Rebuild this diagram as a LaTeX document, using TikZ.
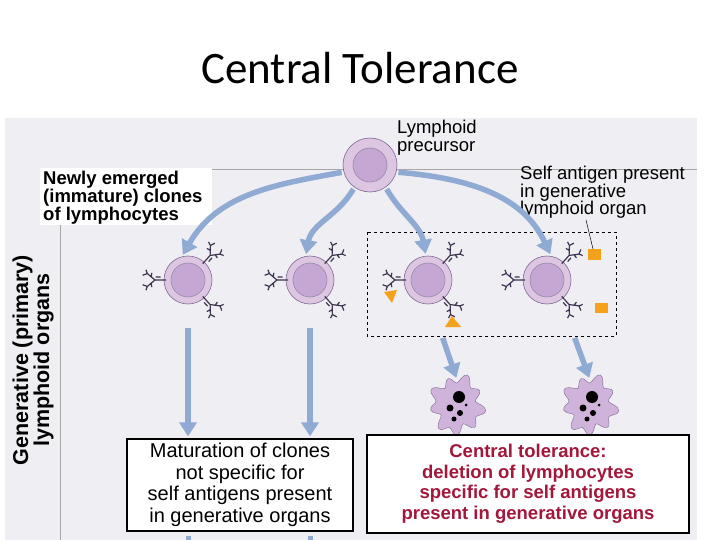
\documentclass[tikz,border=0pt]{standalone}
\usepackage{fontspec}
\setmainfont{Liberation Sans}
\newfontfamily\titlefont{Carlito}
\usetikzlibrary{arrows.meta,calc}
\definecolor{panel}{HTML}{EFEEF3}
\definecolor{cellout}{HTML}{DCC6E2}
\definecolor{cellin}{HTML}{C6A6D3}
\definecolor{celledge}{HTML}{7E6A92}
\definecolor{arr}{HTML}{8FAAD3}
\definecolor{rec}{HTML}{3E3350}
\definecolor{ant}{HTML}{F4A21C}
\definecolor{tolred}{HTML}{A3173A}
\tikzset{
  cellc/.style={circle,minimum size=48pt,inner sep=0,fill=cellout,draw=celledge,line width=0.6pt,
    path picture={\fill[cellin,draw=celledge!80] (path picture bounding box.center) circle (17pt);}},
  bigarr/.style={line width=5.5pt,draw=arr,-{Triangle[length=14pt,width=17pt]},shorten >=2pt,shorten <=2pt},
  box/.style={draw=black,line width=1.2pt,fill=white,align=center,inner sep=4pt},
  lbl/.style={font=\bfseries\fontsize{18.5}{18}\selectfont,align=left,inner sep=1pt},
  thin/.style={font=\fontsize{18.5}{17.5}\selectfont,align=left,inner sep=1pt},
  rcpline/.style={rec,line width=1.2pt}
}
\newcommand\myrcp[2]{% center coord name, angle
  \coordinate (rb) at ($(#1)+(#2:22)$);
  \coordinate (rt) at ($(#1)+(#2:33)$);
  \coordinate (ra) at ($(rt)+(#2+40:10)$);
  \coordinate (rc) at ($(rt)+(#2-40:10)$);
  \draw[rcpline] (rb) -- (rt) -- (ra) (rt) -- (rc)
    ($(rb)!0.5!(rt)+(#2+90:3)$) -- ++(#2:5)
    (ra) -- ++(#2+70:4) (ra) -- ++(#2-20:5)
    (rc) -- ++(#2-70:4) (rc) -- ++(#2+20:5)
    ($(rt)!0.5!(ra)$) -- ++(#2+100:4)
    ($(rt)!0.5!(rc)$) -- ++(#2-100:4);
}
\begin{document}
\begin{tikzpicture}[x=1pt,y=-1pt]
\useasboundingbox (0,0) rectangle (720,540);
\fill[white] (0,0) rectangle (720,540);
\node[font=\titlefont\fontsize{45}{45}\selectfont] (title) at (360,68) {Central Tolerance};
\fill[panel] (5,118) rectangle (697,540);
\draw[gray!70,line width=1pt] (60,540) -- (60,170) -- (697,170);
\node[rotate=90,font=\bfseries\fontsize{21.5}{21}\selectfont,align=center] (gen) at (33,360) {Generative (primary)\\lymphoid organs};
\fill[white] (40,168) rectangle (212,225);
\node[lbl,anchor=north west] (newly) at (42,170) {Newly emerged\\(immature) clones\\of lymphocytes};
\node[thin,anchor=north west] (prelbl) at (396,119) {Lymphoid\\precursor};
\node[thin,anchor=north west] (selflbl) at (519,165) {Self antigen present\\in generative\\lymphoid organ};
\draw[dashed,line width=0.9pt] (367,232) rectangle (616,336);
\node[cellc,minimum size=54pt] (pre) at (370,165) {};
\foreach \n/\xx in {c1/188,c2/310,c3/428,c4/547}{
  \node[cellc] (\n) at (\xx,280) {};
  \myrcp{\n}{180}
  \myrcp{\n}{-48}
  \myrcp{\n}{48}
}
\fill[ant] (384,292) -- (397,290) -- (392,303) -- cycle;
\fill[ant] (445,327) -- (452,316) -- (461,327) -- cycle;
\fill[ant] (588,249) rectangle (601,260);
\fill[ant] (595,303) rectangle (608,313);
\coordinate (selfend) at (593,249);
\draw[black,line width=0.5pt] (586,220) -- (selfend);
\draw[bigarr] (pre.195) to[out=190,in=60] (c1.105);
\draw[bigarr] (pre.235) to[out=240,in=80] (c2.100);
\draw[bigarr] (pre.305) to[out=300,in=100] (c3.95);
\draw[bigarr] (pre.345) to[out=355,in=115] (c4.80);
\foreach \n/\xx in {a1/457,a2/590}{
  \node[inner sep=0,minimum size=50pt] (\n) at (\xx,405) {};
  \fill[cellin!85,draw=celledge] plot[smooth cycle,domain=0:355,samples=72,variable=\t] ({\xx+(24+4*sin(9*\t)+2*sin(4*\t))*cos(\t)},{405+(26+4*sin(9*\t)+2*sin(4*\t))*sin(\t)});
  \fill[black] (\xx+2,397) circle (6pt) (\xx-7,408) circle (3.5pt) (\xx+3,413) circle (3pt) (\xx-3,419) circle (2.5pt) (\xx+9,405) circle (1.5pt);
}
\coordinate (d3) at (442,336);
\coordinate (d4) at (574,336);
\draw[bigarr] (d3) -- (a1.north);
\draw[bigarr] (d4) -- (a2.north);
\node[box,font=\fontsize{20}{21.5}\selectfont,minimum width=226pt,minimum height=92pt] (m) at (240,485) {Maturation of clones\\not specific for\\self antigens present\\in generative organs};
\node[box,font=\bfseries\fontsize{18.5}{20.5}\selectfont,text=tolred,minimum width=322pt,minimum height=98pt] (t) at (528,484) {Central tolerance:\\deletion of lymphocytes\\specific for self antigens\\present in generative organs};
\coordinate (s1) at (188,326);
\coordinate (s2) at (310,326);
\draw[bigarr] (s1) -- (s1 |- m.north);
\draw[bigarr] (s2) -- (s2 |- m.north);
\coordinate (b1) at (188,536);
\coordinate (b2) at (310,536);
\draw[line width=5pt,arr] (b1) -- ++(0,10);
\draw[line width=5pt,arr] (b2) -- ++(0,10);
\end{tikzpicture}
\end{document}
